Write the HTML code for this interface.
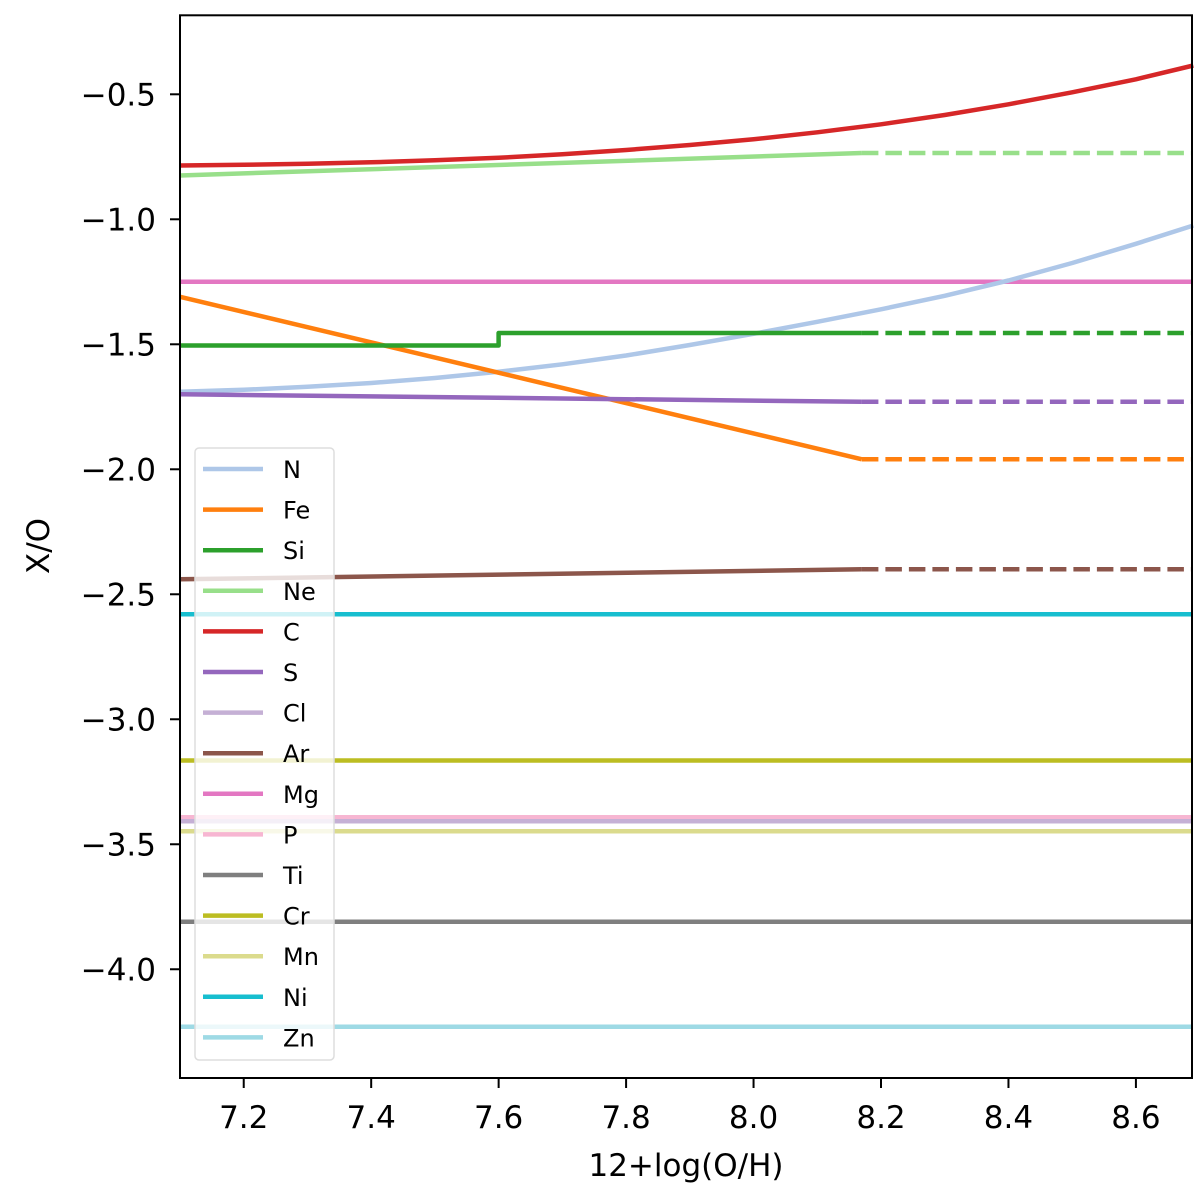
<!DOCTYPE html>
<html><head><meta charset="utf-8"><style>
body{margin:0;background:#fff;}
svg{display:block;font-family:"DejaVu Sans","Liberation Sans",sans-serif;}
</style></head><body>
<svg id="chart" width="1200" height="1193" viewBox="0 0 1200 1193" xmlns="http://www.w3.org/2000/svg">
<g id="series"></g>
<rect x="180" y="15.3" width="1012" height="1062.7" fill="none" stroke="#000" stroke-width="2"/>
<g id="axes"></g>
<g id="legend"></g>
<text x="686" y="1176" font-size="31" text-anchor="middle">12+log(O/H)</text>
<text transform="translate(49,546) rotate(-90)" font-size="31" text-anchor="middle">X/O</text>
</svg>
<script>
const names = ["N","Fe","Si","Ne","C","S","Cl","Ar","Mg","P","Ti","Cr","Mn","Ni","Zn"];
const colors = ["#aec7e8","#ff7f0e","#2ca02c","#98df8a","#d62728","#9467bd","#c5b0d5","#8c564b","#e377c2","#f7b6d2","#7f7f7f","#bcbd22","#dbdb8d","#17becf","#9edae5"];
const xTicks = [7.2,7.4,7.6,7.8,8.0,8.2,8.4,8.6];
const yTicks = [-0.5,-1.0,-1.5,-2.0,-2.5,-3.0,-3.5,-4.0];
const dashStart = 8.17;
const nX = [7.1,7.2,7.3,7.4,7.5,7.6,7.7,7.8,7.9,8.0,8.1,8.2,8.3,8.4,8.5,8.6,8.69];
const nY = [-1.69,-1.682,-1.67,-1.655,-1.635,-1.61,-1.58,-1.545,-1.503,-1.458,-1.41,-1.36,-1.306,-1.245,-1.175,-1.098,-1.025];
const cX = [7.1,7.2,7.3,7.4,7.5,7.6,7.7,7.8,7.9,8.0,8.1,8.2,8.3,8.4,8.5,8.6,8.69];
const cY = [-0.785,-0.782,-0.778,-0.772,-0.764,-0.754,-0.74,-0.723,-0.703,-0.68,-0.652,-0.62,-0.583,-0.54,-0.492,-0.44,-0.385];
const neX = [7.1,8.17]; const neY = [-0.825,-0.735];
const feX = [7.1,8.17]; const feY = [-1.31,-1.96];
const siX = [7.1,7.6,7.6,8.17]; const siY = [-1.505,-1.505,-1.455,-1.455];
const sX = [7.1,8.17]; const sY = [-1.70,-1.73];
const arX = [7.1,8.17]; const arY = [-2.44,-2.40];
const flatNames = ["Mg","Ni","Cr","P","Cl","Mn","Ti","Zn"];
const flatVals = [-1.25,-2.58,-3.165,-3.392,-3.408,-3.448,-3.81,-4.23];
const xmin=7.1,xmax=8.688,ymin=-4.435,ymax=-0.184;
const L=180,R=1192,T=15.3,B=1078;
const sx=v=>L+(v-xmin)/(xmax-xmin)*(R-L);
const sy=v=>B-(v-ymin)/(ymax-ymin)*(B-T);
const NS="http://www.w3.org/2000/svg";
const g=document.getElementById('series');
function line(parent,pts,color,dash,name){
  const p=document.createElementNS(NS,'polyline');
  p.setAttribute('points',pts.map(q=>sx(q[0]).toFixed(1)+','+sy(q[1]).toFixed(1)).join(' '));
  p.setAttribute('fill','none');p.setAttribute('stroke',color);p.setAttribute('stroke-width','4.5');
  p.setAttribute('stroke-linejoin','round');
  if(dash)p.setAttribute('stroke-dasharray','16.5,7');
  
  
  parent.appendChild(p);
}
const col=n=>colors[names.indexOf(n)];
function zip(a,b){return a.map((v,i)=>[v,b[i]]);}
flatNames.forEach((n,i)=>line(g,[[xmin,flatVals[i]],[xmax,flatVals[i]]],col(n),false,'line-'+n.toLowerCase()));
line(g,zip(nX,nY),col('N'),false,'line-n');
[["Fe",feX,feY],["Si",siX,siY],["Ne",neX,neY],["S",sX,sY],["Ar",arX,arY]].forEach(([n,xs,ys])=>{
  line(g,zip(xs,ys),col(n),false,'line-'+n.toLowerCase());
  const last=ys[ys.length-1];
  line(g,[[dashStart,last],[xmax,last]],col(n),true,'line-'+n.toLowerCase()+'-extrapolated');
});
line(g,zip(cX,cY),col('C'),false,'line-c');
const ax=document.getElementById('axes');
xTicks.forEach(v=>{
  const x=sx(v);
  const t=document.createElementNS(NS,'line');
  t.setAttribute('x1',x);t.setAttribute('x2',x);t.setAttribute('y1',B);t.setAttribute('y2',B+10);t.setAttribute('stroke','#000');t.setAttribute('stroke-width','2');
  
  
  ax.appendChild(t);
  const l=document.createElementNS(NS,'text');
  l.setAttribute('x',x);l.setAttribute('y',B+50);l.setAttribute('font-size','31');l.setAttribute('text-anchor','middle');
  l.textContent=v.toFixed(1);
  
  
  ax.appendChild(l);
});
yTicks.forEach(v=>{
  const y=sy(v);
  const t=document.createElementNS(NS,'line');
  t.setAttribute('x1',L-10);t.setAttribute('x2',L);t.setAttribute('y1',y);t.setAttribute('y2',y);t.setAttribute('stroke','#000');t.setAttribute('stroke-width','2');
  
  
  ax.appendChild(t);
  const l=document.createElementNS(NS,'text');
  l.setAttribute('x',L-24);l.setAttribute('y',y+11);l.setAttribute('font-size','31');l.setAttribute('text-anchor','end');
  l.textContent='\u2212'+Math.abs(v).toFixed(1);
  
  
  ax.appendChild(l);
});
const lg=document.getElementById('legend');
const box=document.createElementNS(NS,'rect');
box.setAttribute('x',195);box.setAttribute('y',448);box.setAttribute('width',139);box.setAttribute('height',612);box.setAttribute('rx',4);
box.setAttribute('fill','rgba(255,255,255,0.8)');box.setAttribute('stroke','#ddd');box.setAttribute('stroke-width','1.5');


lg.appendChild(box);
names.forEach((n,i)=>{
  const y=469+i*40.6;
  const l=document.createElementNS(NS,'line');
  l.setAttribute('x1',203);l.setAttribute('x2',263);l.setAttribute('y1',y);l.setAttribute('y2',y);l.setAttribute('stroke',colors[i]);l.setAttribute('stroke-width','4.5');
  
  
  lg.appendChild(l);
  const t=document.createElementNS(NS,'text');
  t.setAttribute('x',283);t.setAttribute('y',y+9);t.setAttribute('font-size','24');
  t.textContent=n;
  
  
  lg.appendChild(t);
});
</script>
</body></html>
